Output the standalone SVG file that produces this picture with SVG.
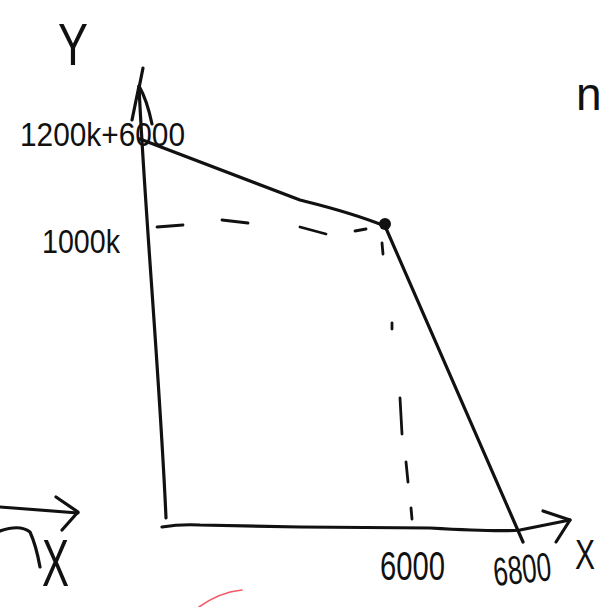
<svg xmlns="http://www.w3.org/2000/svg" width="605" height="607" viewBox="0 0 605 607">
<style>
.ink{fill:none;stroke:#111;stroke-width:3.2;stroke-linecap:round;stroke-linejoin:round}
.dash{fill:none;stroke:#111;stroke-width:2.8;stroke-linecap:round}
.lbl{font-family:"Liberation Sans",Arial,sans-serif;fill:#111}
</style>
<rect width="605" height="607" fill="#fff"/>
<g id="axes">
  <path class="ink" d="M139,86 C144,200 160,380 166,518"/>
  <path class="ink" d="M143,68 L137,98 M139,86 L132,120 M139,86 Q147,100 152,124"/>
  <path class="ink" d="M162,527 Q180,524 200,525 L300,527 L430,528 Q500,532 520,530 L570,520"/>
  <path class="ink" d="M543,511 L570,520 L556,542"/>
</g>
<g id="frontier">
  <path class="ink" d="M140,139 L300,200 C320,205 350,212 385,226"/>
  <path class="ink" d="M385,226 L523,542"/>
  <circle cx="385" cy="224" r="6" fill="#111"/>
</g>
<g id="guides">
  <path class="dash" d="M157,227 L183,225 M222,220 L248,223 M300,227 L326,234 M355,231 L366,229"/>
  <path class="dash" d="M382,243 L383,254 M392,323 L392,329 M400,398 L402,434 M406,462 L408,482 M411,508 L412,519"/>
</g>
<g id="labels">
  <text class="lbl" x="58" y="65" font-size="60" textLength="30" lengthAdjust="spacingAndGlyphs">Y</text>
  <text class="lbl" x="20" y="146" font-size="34" textLength="165" lengthAdjust="spacingAndGlyphs">1200k+6000</text>
  <text class="lbl" x="42" y="253" font-size="34" textLength="78" lengthAdjust="spacingAndGlyphs">1000k</text>
  <text class="lbl" x="380" y="580" font-size="40" textLength="65" lengthAdjust="spacingAndGlyphs">6000</text>
  <text class="lbl" x="493" y="583" font-size="40" textLength="58" lengthAdjust="spacingAndGlyphs" transform="rotate(-6 522 568)">6800</text>
  <text class="lbl" x="575" y="569" font-size="42" textLength="20" lengthAdjust="spacingAndGlyphs">X</text>
  <text class="lbl" x="576" y="110" font-size="46">n</text>
</g>
<g id="left-fragment">
  <path class="ink" d="M0,507 L78,513"/>
  <path class="ink" d="M56,497 L78,512 L62,530"/>
  <path class="ink" d="M0,531 Q20,524 30,532 Q36,545 40,567"/>
  <text class="lbl" x="42" y="586" font-size="66" textLength="27" lengthAdjust="spacingAndGlyphs">X</text>
</g>
<path d="M199,607 Q220,592 242,590" fill="none" stroke="#f25a6a" stroke-width="1.6" stroke-linecap="round"/>
</svg>
